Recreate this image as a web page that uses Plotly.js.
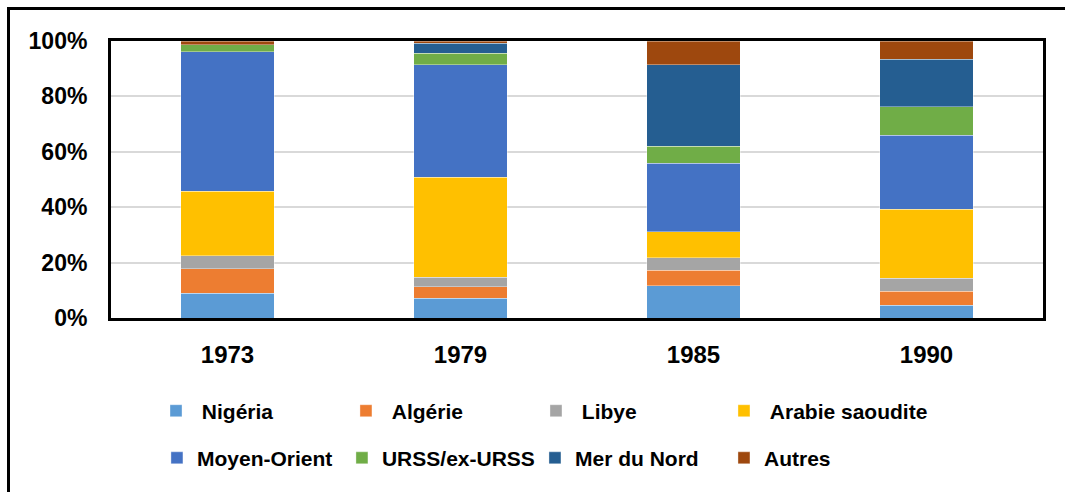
<!DOCTYPE html>
<html>
<head>
<meta charset="utf-8">
<script src="https://cdn.plot.ly/plotly-3.0.1.min.js"></script>
<style>
  html, body { margin: 0; padding: 0; background: #fff; }
  #wrap { position: relative; width: 1065px; height: 492px; overflow: hidden; }
  #chart { width: 1065px; height: 492px; }
  #frame { position: absolute; left: 7px; top: 7px; width: 1100px; height: 482px;
           border-left: 3px solid #000; border-top: 3px solid #000; border-bottom: 1px solid #e6e6e6;
           pointer-events: none; }
</style>
</head>
<body>
<div id="wrap">
  <div id="chart"></div>
  <div id="frame"></div>
</div>
<script>
const years = ['1973', '1979', '1985', '1990'];

const nigeria      = [9.0, 7.1, 11.7, 4.6];
const algerie      = [8.7, 4.1, 5.6, 5.0];
const libye        = [4.7, 3.5, 4.5, 4.7];
const arabie       = [23.4, 36.1, 9.3, 24.9];
const moyenOrient  = [50.3, 40.6, 24.8, 26.8];
const urss         = [2.5, 4.1, 6.1, 10.3];
const merDuNord    = [0.0, 3.7, 29.4, 17.2];
const autres       = [1.4, 0.8, 8.6, 6.5];

const seriesNames = ['\u00a0Nigéria', '\u00a0Algérie', '\u00a0Libye', '\u00a0Arabie saoudite',
                     'Moyen-Orient', 'URSS/ex-URSS', 'Mer du Nord', 'Autres'];
const seriesValues = [nigeria, algerie, libye, arabie, moyenOrient, urss, merDuNord, autres];
const seriesColors = ['#5B9BD5', '#ED7D31', '#A5A5A5', '#FFC000',
                      '#4472C4', '#70AD47', '#255E91', '#9E480E'];

// legend placement (paper coordinates), one legend box per entry: 2 rows x 4 columns
const legendX = [0.0483, 0.2521, 0.4560, 0.6577, 0.0493, 0.2478, 0.4549, 0.6577];
const legendY = [-0.262, -0.262, -0.262, -0.262, -0.432, -0.432, -0.432, -0.432];

const legendIds = seriesNames.map((_, i) => (i === 0 ? 'legend' : 'legend' + (i + 1)));

const traces = seriesNames.map((name, i) => ({
  type: 'bar',
  name: name,
  x: years,
  y: seriesValues[i],
  marker: { color: seriesColors[i], line: { color: 'rgba(255,255,255,0.45)', width: 0.8 } },
  legend: legendIds[i],
  hoverinfo: 'x+y+name'
}));

const legendFont = { family: 'Liberation Sans, Arial, sans-serif', size: 21, color: '#000', weight: 'bold' };

const layout = {
  width: 1065, height: 492,
  margin: { l: 111, r: 22, t: 41, b: 174 },
  paper_bgcolor: '#fff', plot_bgcolor: '#fff',
  barmode: 'stack',
  bargap: 0.6,
  font: { family: 'Liberation Sans, Arial, sans-serif', color: '#000' },
  xaxis: {
    type: 'category',
    tickfont: { size: 24, weight: 'bold', color: '#000' },
    ticks: 'outside', ticklen: 13, tickcolor: 'rgba(0,0,0,0)',
    showline: true, linecolor: '#000', linewidth: 3, mirror: true,
    showgrid: false, fixedrange: true
  },
  yaxis: {
    range: [0, 100],
    tickvals: [0, 20, 40, 60, 80, 100],
    ticktext: ['0%', '20%', '40%', '60%', '80%', '100%'],
    tickfont: { size: 23, weight: 'bold', color: '#000' },
    ticks: 'outside', ticklen: 16, tickcolor: 'rgba(0,0,0,0)',
    showline: true, linecolor: '#000', linewidth: 3, mirror: true,
    showgrid: true, gridcolor: '#d9d9d9', gridwidth: 2,
    zeroline: false, fixedrange: true
  },
  showlegend: true
};

legendIds.forEach((id, i) => {
  layout[id] = {
    orientation: 'h', x: legendX[i], xanchor: 'left', y: legendY[i], yanchor: 'top',
    font: legendFont, bgcolor: 'rgba(0,0,0,0)', borderwidth: 0
  };
});

Plotly.newPlot('chart', traces, layout, { displayModeBar: false, staticPlot: true });
</script>
</body>
</html>
